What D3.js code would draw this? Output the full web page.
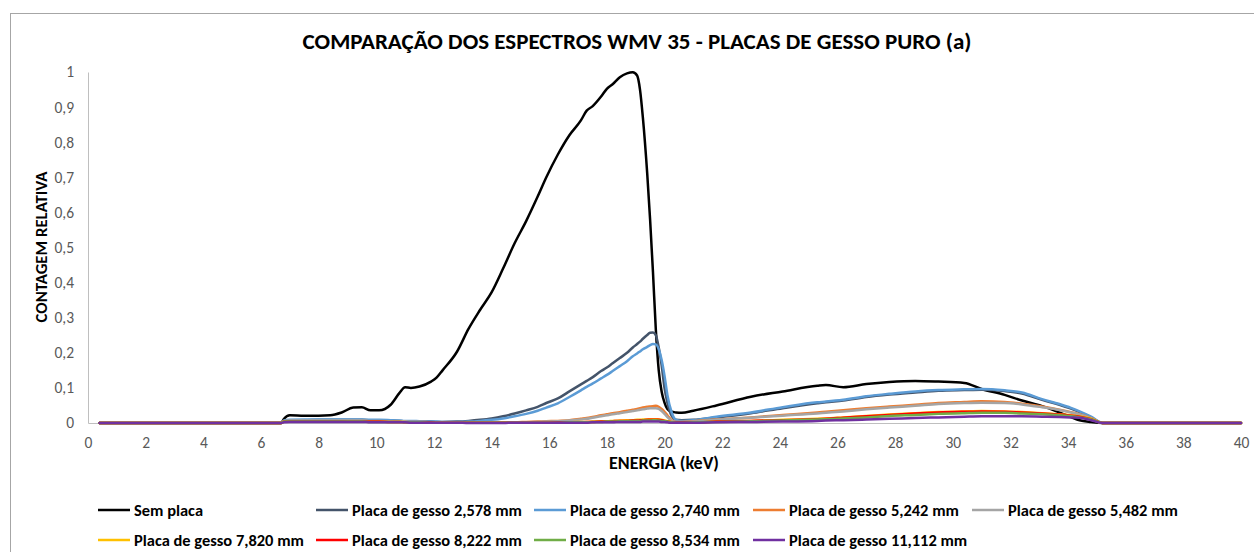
<!DOCTYPE html>
<html>
<head>
<meta charset="utf-8">
<script src="https://cdn.jsdelivr.net/npm/d3@7"></script>
<style>
  html, body { margin: 0; padding: 0; background: #fff; }
  svg { display: block; font-family: Carlito, Calibri, Lato, sans-serif; }
</style>
</head>
<body>
<svg id="chart" width="1254" height="552"></svg>
<script>
// Energy grid (keV) shared by every spectrum
const energia = [0.4, 6.7, 6.8, 7.0, 7.5, 8.0, 8.4, 8.8, 9.2, 9.5, 9.8, 10.1, 10.5, 10.8, 11.0, 11.2, 11.5, 11.9, 12.1, 12.3,
  12.8, 13.2, 13.6, 14.0, 14.4, 14.8, 15.2, 15.6, 15.9, 16.3, 16.7, 17.1, 17.3, 17.5, 17.8, 18.0, 18.2, 18.45, 18.7, 18.9,
  19.05, 19.15, 19.25, 19.4, 19.5, 19.6, 19.7, 19.8, 19.9, 20.0, 20.1, 20.25, 20.4, 20.6, 21.0, 21.8, 23.0, 24.1, 25.3, 25.6,
  26.2, 27.0, 27.8, 28.7, 29.5, 30.4, 31.0, 31.8, 32.4, 33.1, 33.7, 34.1, 34.4, 34.8, 35.2, 36.0, 40.0];

// Relative counts per spectrum
const semPlaca = [0, 0, 0.012, 0.022, 0.021, 0.021, 0.022, 0.030, 0.044, 0.045, 0.036, 0.036, 0.052, 0.085, 0.102, 0.100, 0.104, 0.118, 0.130, 0.150,
  0.203, 0.268, 0.322, 0.372, 0.440, 0.512, 0.575, 0.645, 0.700, 0.765, 0.820, 0.862, 0.890, 0.902, 0.930, 0.952, 0.965, 0.985, 0.996, 0.999,
  0.990, 0.950, 0.870, 0.711, 0.580, 0.430, 0.265, 0.150, 0.090, 0.058, 0.040, 0.032, 0.030, 0.029, 0.035, 0.050, 0.075, 0.090, 0.106, 0.108,
  0.102, 0.111, 0.117, 0.120, 0.118, 0.114, 0.097, 0.080, 0.064, 0.048, 0.030, 0.017, 0.008, 0.003, 0, 0, 0];

const gesso2578 = [0, 0, 0.006, 0.008, 0.008, 0.009, 0.009, 0.009, 0.009, 0.009, 0.008, 0.008, 0.007, 0.006, 0.005, 0.005, 0.004, 0.004, 0.003, 0.003,
  0.004, 0.006, 0.009, 0.013, 0.019, 0.027, 0.036, 0.046, 0.057, 0.070, 0.090, 0.110, 0.120, 0.130, 0.148, 0.158, 0.170, 0.185, 0.200, 0.215,
  0.225, 0.232, 0.240, 0.251, 0.257, 0.258, 0.250, 0.215, 0.165, 0.100, 0.058, 0.020, 0.009, 0.008, 0.009, 0.016, 0.028, 0.042, 0.056, 0.059,
  0.064, 0.074, 0.081, 0.087, 0.092, 0.094, 0.095, 0.091, 0.084, 0.066, 0.052, 0.041, 0.031, 0.016, 0, 0, 0];

const gesso2740 = [0, 0, 0.007, 0.009, 0.010, 0.010, 0.010, 0.010, 0.010, 0.010, 0.009, 0.009, 0.008, 0.007, 0.006, 0.006, 0.005, 0.004, 0.004, 0.003,
  0.003, 0.004, 0.006, 0.009, 0.013, 0.019, 0.026, 0.035, 0.044, 0.056, 0.074, 0.093, 0.103, 0.112, 0.127, 0.137, 0.148, 0.162, 0.176, 0.190,
  0.198, 0.204, 0.210, 0.217, 0.222, 0.225, 0.224, 0.210, 0.180, 0.135, 0.080, 0.030, 0.009, 0.006, 0.008, 0.018, 0.030, 0.045, 0.059, 0.061,
  0.066, 0.076, 0.083, 0.090, 0.094, 0.096, 0.097, 0.093, 0.087, 0.068, 0.054, 0.043, 0.033, 0.018, 0.001, 0, 0];

const gesso5242 = [0, 0, 0.005, 0.006, 0.006, 0.006, 0.006, 0.006, 0.006, 0.006, 0.005, 0.005, 0.004, 0.004, 0.003, 0.003, 0.003, 0.002, 0.002, 0.002,
  0.001, 0.001, 0.001, 0.001, 0.002, 0.002, 0.003, 0.004, 0.005, 0.006, 0.008, 0.012, 0.014, 0.017, 0.022, 0.025, 0.028, 0.031, 0.035, 0.038,
  0.040, 0.042, 0.044, 0.046, 0.047, 0.048, 0.049, 0.046, 0.040, 0.032, 0.022, 0.008, 0.003, 0.003, 0.005, 0.010, 0.016, 0.023, 0.030, 0.032,
  0.036, 0.042, 0.047, 0.052, 0.057, 0.060, 0.062, 0.060, 0.055, 0.047, 0.038, 0.031, 0.025, 0.014, 0, 0, 0];

const gesso5482 = [0, 0, 0.006, 0.007, 0.007, 0.007, 0.007, 0.007, 0.007, 0.007, 0.006, 0.006, 0.005, 0.004, 0.004, 0.003, 0.003, 0.002, 0.002, 0.002,
  0.001, 0.001, 0.001, 0.001, 0.001, 0.002, 0.002, 0.003, 0.004, 0.005, 0.007, 0.010, 0.012, 0.015, 0.019, 0.022, 0.025, 0.028, 0.031, 0.034,
  0.036, 0.038, 0.039, 0.041, 0.042, 0.042, 0.042, 0.040, 0.034, 0.026, 0.017, 0.006, 0.003, 0.003, 0.004, 0.009, 0.015, 0.021, 0.027, 0.029,
  0.033, 0.039, 0.044, 0.049, 0.054, 0.057, 0.058, 0.057, 0.053, 0.045, 0.037, 0.030, 0.024, 0.013, 0, 0, 0];

const gesso7820 = [0, 0, 0.004, 0.005, 0.005, 0.005, 0.005, 0.005, 0.005, 0.004, 0.004, 0.004, 0.003, 0.003, 0.003, 0.002, 0.002, 0.002, 0.001, 0.001,
  0.001, 0.001, 0.001, 0.001, 0.001, 0.001, 0.001, 0.001, 0.002, 0.002, 0.002, 0.003, 0.003, 0.004, 0.005, 0.005, 0.006, 0.007, 0.008, 0.008,
  0.009, 0.009, 0.010, 0.010, 0.011, 0.011, 0.011, 0.010, 0.009, 0.007, 0.005, 0.003, 0.002, 0.002, 0.002, 0.004, 0.006, 0.009, 0.012, 0.013,
  0.016, 0.020, 0.024, 0.028, 0.031, 0.033, 0.034, 0.033, 0.031, 0.028, 0.025, 0.022, 0.019, 0.012, 0, 0, 0];

const gesso8222 = [0, 0, 0.004, 0.005, 0.005, 0.005, 0.005, 0.005, 0.004, 0.004, 0.004, 0.004, 0.003, 0.003, 0.002, 0.002, 0.002, 0.002, 0.001, 0.001,
  0.001, 0.001, 0.001, 0.001, 0.001, 0.001, 0.001, 0.001, 0.001, 0.002, 0.002, 0.002, 0.003, 0.003, 0.004, 0.004, 0.005, 0.006, 0.006, 0.007,
  0.007, 0.008, 0.008, 0.009, 0.009, 0.009, 0.009, 0.009, 0.008, 0.006, 0.004, 0.002, 0.002, 0.002, 0.002, 0.004, 0.006, 0.008, 0.011, 0.012,
  0.015, 0.019, 0.023, 0.027, 0.030, 0.032, 0.033, 0.032, 0.030, 0.027, 0.024, 0.021, 0.018, 0.011, 0, 0, 0];

const gesso8534 = [0, 0, 0.004, 0.004, 0.004, 0.004, 0.004, 0.004, 0.004, 0.004, 0.003, 0.003, 0.003, 0.003, 0.002, 0.002, 0.002, 0.001, 0.001, 0.001,
  0.001, 0.001, 0.001, 0.001, 0.001, 0.001, 0.001, 0.001, 0.001, 0.001, 0.002, 0.002, 0.002, 0.003, 0.003, 0.004, 0.004, 0.005, 0.005, 0.006,
  0.006, 0.006, 0.007, 0.007, 0.007, 0.008, 0.008, 0.007, 0.006, 0.005, 0.004, 0.002, 0.001, 0.001, 0.002, 0.003, 0.005, 0.007, 0.010, 0.011,
  0.013, 0.016, 0.020, 0.023, 0.026, 0.028, 0.029, 0.029, 0.027, 0.025, 0.022, 0.019, 0.016, 0.010, 0, 0, 0];

const gesso11112 = [0, 0, 0.002, 0.003, 0.003, 0.003, 0.003, 0.003, 0.003, 0.003, 0.002, 0.002, 0.002, 0.002, 0.002, 0.001, 0.001, 0.001, 0.001, 0.001,
  0.001, 0.000, 0.000, 0.000, 0.000, 0.001, 0.001, 0.001, 0.001, 0.001, 0.001, 0.001, 0.001, 0.002, 0.002, 0.002, 0.002, 0.003, 0.003, 0.003,
  0.003, 0.003, 0.004, 0.004, 0.004, 0.004, 0.004, 0.004, 0.003, 0.003, 0.002, 0.001, 0.001, 0.001, 0.001, 0.002, 0.003, 0.004, 0.006, 0.007,
  0.008, 0.010, 0.012, 0.014, 0.016, 0.018, 0.019, 0.019, 0.019, 0.018, 0.017, 0.016, 0.015, 0.008, 0, 0, 0];

const seriesNames = ["Sem placa", "Placa de gesso 2,578 mm", "Placa de gesso 2,740 mm", "Placa de gesso 5,242 mm",
  "Placa de gesso 5,482 mm", "Placa de gesso 7,820 mm", "Placa de gesso 8,222 mm", "Placa de gesso 8,534 mm",
  "Placa de gesso 11,112 mm"];
const seriesValues = [semPlaca, gesso2578, gesso2740, gesso5242, gesso5482, gesso7820, gesso8222, gesso8534, gesso11112];
const seriesColors = ["#000000", "#44546A", "#5B9BD5", "#ED7D31", "#A5A5A5", "#FFC000", "#FF0000", "#70AD47", "#7030A0"];

const xTicks = d3.range(0, 41, 2);
const yTicks = [0, 0.1, 0.2, 0.3, 0.4, 0.5, 0.6, 0.7, 0.8, 0.9, 1];

const titleText = "COMPARAÇÃO DOS ESPECTROS WMV 35 - PLACAS DE GESSO PURO (a)";
const xTitle = "ENERGIA (keV)";
const yTitle = "CONTAGEM RELATIVA";

const svg = d3.select("#chart");
const ptBR = d3.formatLocale({ decimal: ",", thousands: ".", grouping: [3], currency: ["R$", ""] });
const fmt = ptBR.format("~g");

// Size a text element so that its rendered width equals the given width
function fitWidth(sel, width) {
  sel.style("font-size", "100px");
  const w = sel.node().getComputedTextLength();
  const size = 100 * width / w;
  sel.style("font-size", size + "px");
  return size;
}

// Chart frame
svg.append("rect")
  .attr("x", 10.5).attr("y", 13.5)
  .attr("width", 1300).attr("height", 600)
  .attr("fill", "#fff").attr("stroke", "#A6A6A6").attr("stroke-width", 1);

const x = d3.scaleLinear().domain([0, 40]).range([88, 1241]);
const y = d3.scaleLinear().domain([0, 1]).range([423, 72]);

// Axes
const xAxis = svg.append("g")
  .attr("transform", `translate(0,${y(0)})`)
  .call(d3.axisBottom(x).tickValues(xTicks).tickSize(0).tickPadding(14).tickFormat(fmt));
const yAxis = svg.append("g")
  .attr("transform", `translate(${x(0)},0)`)
  .call(d3.axisLeft(y).tickValues(yTicks).tickSize(0).tickPadding(14).tickFormat(fmt));

[xAxis, yAxis].forEach(g => {
  g.select(".domain").attr("stroke", "#BFBFBF").attr("stroke-width", 1);
  g.selectAll("text")
    .attr("fill", "#595959")
    .style("font-family", "Carlito, Calibri, Lato, sans-serif")
    .style("font-size", "15.5px");
});

// Spectra
const line = d3.line()
  .x(d => x(d[0]))
  .y(d => y(d[1]))
  .curve(d3.curveMonotoneX);

svg.append("g")
  .selectAll("path")
  .data(seriesValues.map((vals, i) => ({ i, pts: energia.map((e, k) => [e, vals[k]]) })))
  .join("path")
  .attr("d", d => line(d.pts))
  .attr("fill", "none")
  .attr("stroke", d => seriesColors[d.i])
  .attr("stroke-width", 2.5)
  .attr("stroke-linejoin", "round")
  .attr("stroke-linecap", "round");

// Title
const title = svg.append("text")
  .attr("x", 637).attr("y", 49)
  .attr("text-anchor", "middle")
  .attr("font-weight", "bold")
  .attr("fill", "#000")
  .text(titleText);
fitWidth(title, 669);

// Axis titles
const xt = svg.append("text")
  .attr("x", 664).attr("y", 468.5)
  .attr("text-anchor", "middle")
  .attr("font-weight", "bold")
  .attr("fill", "#000")
  .text(xTitle);
fitWidth(xt, 110);

const yt = svg.append("text")
  .attr("transform", "translate(47,247) rotate(-90)")
  .attr("text-anchor", "middle")
  .attr("font-weight", "bold")
  .attr("fill", "#000")
  .text(yTitle);
fitWidth(yt, 151);

// Legend: 5 columns, 2 rows
const colX = [98, 316, 534, 753, 972];
const rowY = [510, 540];
const legend = svg.append("g");
const items = legend.selectAll("g")
  .data(seriesNames.map((n, i) => ({ n, i })))
  .join("g")
  .attr("transform", d => `translate(${colX[d.i % 5]},${rowY[Math.floor(d.i / 5)]})`);
items.append("line")
  .attr("x1", 0).attr("x2", 32).attr("y1", 0).attr("y2", 0)
  .attr("stroke", d => seriesColors[d.i])
  .attr("stroke-width", 2.5);
const labels = items.append("text")
  .attr("x", 36).attr("y", 0).attr("dy", "0.35em")
  .attr("font-weight", "bold")
  .attr("fill", "#000")
  .text(d => d.n);
const probe = labels.filter(d => d.i === 1);
const legendSize = fitWidth(probe, 170);
labels.style("font-size", legendSize + "px");
</script>
</body>
</html>
